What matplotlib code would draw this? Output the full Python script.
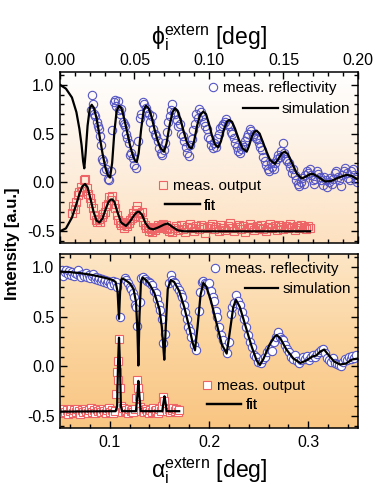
import numpy as np
import matplotlib
matplotlib.use("Agg")
import matplotlib.pyplot as plt
from matplotlib.colors import LinearSegmentedColormap
from matplotlib.ticker import MultipleLocator, FormatStrFormatter

plt.rcParams['font.family'] = ['Liberation Sans', 'DejaVu Sans']

# ---- top panel: phi_i extern ----
top_sim_x = [0.000, 0.004, 0.008, 0.011, 0.013, 0.0145, 0.0155, 0.0163, 0.0172, 0.0185,
             0.0200, 0.0213, 0.0228, 0.0245, 0.0265, 0.0285, 0.0305, 0.0322, 0.0336, 0.0350,
             0.0365, 0.0380, 0.0396, 0.0412, 0.0430, 0.0450, 0.0470, 0.0490, 0.0505, 0.0515,
             0.0528, 0.0545, 0.0562, 0.0577, 0.0595, 0.0615, 0.0635, 0.0655, 0.0675, 0.0698,
             0.0715, 0.0735, 0.0755, 0.0772, 0.0790, 0.0810, 0.0830, 0.0850, 0.0868, 0.0884,
             0.0900, 0.0920, 0.0940, 0.0962, 0.0980, 0.1000, 0.1020, 0.1040, 0.1063, 0.1080,
             0.1100, 0.1120, 0.1136, 0.1155, 0.1175, 0.1200, 0.1225, 0.1253, 0.1270, 0.1290,
             0.1305, 0.1320, 0.1340, 0.1360, 0.1385, 0.1410, 0.1443, 0.1465, 0.1490, 0.1510,
             0.1530, 0.1560, 0.1590, 0.1622, 0.1650, 0.1680, 0.1700, 0.1730, 0.1779, 0.1820,
             0.1870, 0.1924, 0.1960, 0.2000]
top_sim_y = [1.00, 0.96, 0.87, 0.72, 0.55, 0.38, 0.22, 0.145, 0.30, 0.58,
             0.76, 0.795, 0.76, 0.66, 0.48, 0.30, 0.15, 0.07, 0.05, 0.20,
             0.52, 0.73, 0.785, 0.76, 0.66, 0.52, 0.38, 0.27, 0.22, 0.21,
             0.30, 0.55, 0.74, 0.785, 0.76, 0.67, 0.54, 0.43, 0.35, 0.315,
             0.40, 0.58, 0.72, 0.76, 0.73, 0.64, 0.52, 0.42, 0.36, 0.35,
             0.42, 0.58, 0.69, 0.725, 0.70, 0.60, 0.48, 0.39, 0.36, 0.42,
             0.54, 0.62, 0.64, 0.62, 0.55, 0.44, 0.35, 0.315, 0.38, 0.48,
             0.52, 0.53, 0.50, 0.42, 0.32, 0.23, 0.19, 0.24, 0.30, 0.315,
             0.29, 0.19, 0.09, 0.04, 0.06, 0.085, 0.086, 0.06, 0.01, 0.015,
             0.05, 0.078, 0.065, 0.03]

top_refl_x = [0.0205, 0.0215, 0.0222, 0.0230, 0.0238, 0.0245, 0.0252, 0.0260, 0.0268, 0.0275,
              0.0282, 0.0290, 0.0298, 0.0310, 0.0322, 0.0330, 0.0340, 0.0352, 0.0362, 0.0370,
              0.0378, 0.0388, 0.0396, 0.0405, 0.0412, 0.0420, 0.0428, 0.0436, 0.0445, 0.0452,
              0.0460, 0.0470, 0.0478, 0.0488, 0.0500, 0.0512, 0.0525, 0.0535, 0.0545, 0.0555,
              0.0565, 0.0575, 0.0585, 0.0595, 0.0605, 0.0615, 0.0625, 0.0635, 0.0645, 0.0655,
              0.0665, 0.0675, 0.0685, 0.0695, 0.0705, 0.0715, 0.0725, 0.0735, 0.0745, 0.0755,
              0.0765, 0.0775, 0.0785, 0.0795, 0.0805, 0.0815, 0.0825, 0.0835, 0.0845, 0.0855,
              0.0865, 0.0875, 0.0885, 0.0895, 0.0905, 0.0915, 0.0925, 0.0935, 0.0945, 0.0955,
              0.0965, 0.0975, 0.0985, 0.0995, 0.1005, 0.1015, 0.1025, 0.1035, 0.1045, 0.1055,
              0.1065, 0.1075, 0.1085, 0.1095, 0.1105, 0.1115, 0.1125, 0.1135, 0.1145, 0.1155,
              0.1165, 0.1175, 0.1185, 0.1195, 0.1205, 0.1215, 0.1225, 0.1235, 0.1245, 0.1255,
              0.1265, 0.1275, 0.1285, 0.1295, 0.1305, 0.1315, 0.1325, 0.1335, 0.1345, 0.1355,
              0.1365, 0.1375, 0.1385, 0.1395, 0.1405, 0.1415, 0.1425, 0.1435, 0.1445, 0.1455,
              0.1465, 0.1475, 0.1485, 0.1495, 0.1505, 0.1515, 0.1525, 0.1535, 0.1545, 0.1555,
              0.1565, 0.1575, 0.1585, 0.1595, 0.1605, 0.1615, 0.1625, 0.1635, 0.1645, 0.1655,
              0.1665, 0.1675, 0.1685, 0.1695, 0.1705, 0.1715, 0.1725, 0.1735, 0.1745, 0.1755,
              0.1765, 0.1775, 0.1785, 0.1795, 0.1805, 0.1815, 0.1825, 0.1835, 0.1845, 0.1855,
              0.1865, 0.1875, 0.1885, 0.1895, 0.1905, 0.1915, 0.1925, 0.1935, 0.1945, 0.1955,
              0.1965, 0.1975, 0.1985, 0.1995]
top_refl_y = [0.74, 0.90, 0.80, 0.70, 0.68, 0.62, 0.58, 0.55, 0.48, 0.38,
              0.24, 0.22, 0.12, 0.14, 0.04, 0.03, 0.12, 0.54, 0.82, 0.84,
              0.78, 0.83, 0.74, 0.70, 0.75, 0.62, 0.60, 0.58, 0.50, 0.45,
              0.40, 0.28, 0.30, 0.25, 0.18, 0.145, 0.42, 0.66, 0.70, 0.82,
              0.80, 0.76, 0.72, 0.70, 0.62, 0.68, 0.55, 0.50, 0.48, 0.42,
              0.35, 0.30, 0.28, 0.33, 0.40, 0.52, 0.62, 0.68, 0.74, 0.80,
              0.72, 0.70, 0.64, 0.58, 0.60, 0.50, 0.48, 0.42, 0.36, 0.30,
              0.27, 0.38, 0.44, 0.54, 0.60, 0.70, 0.66, 0.75, 0.72, 0.68,
              0.62, 0.58, 0.55, 0.47, 0.44, 0.38, 0.35, 0.40, 0.36, 0.45,
              0.50, 0.56, 0.58, 0.60, 0.62, 0.65, 0.60, 0.58, 0.52, 0.50,
              0.45, 0.40, 0.36, 0.32, 0.30, 0.34, 0.38, 0.36, 0.42, 0.47,
              0.50, 0.55, 0.53, 0.48, 0.50, 0.46, 0.44, 0.40, 0.36, 0.33,
              0.26, 0.22, 0.18, 0.14, 0.12, 0.20, 0.16, 0.14, 0.20, 0.24,
              0.28, 0.26, 0.32, 0.40, 0.30, 0.24, 0.22, 0.20, 0.16, 0.10,
              0.14, 0.08, 0.02, -0.02, -0.04, 0.00, 0.05, -0.02, 0.08, 0.12,
              0.10, 0.14, 0.08, 0.02, -0.02, 0.04, 0.12, 0.09, 0.06, 0.02,
              -0.03, 0.06, 0.03, -0.05, 0.00, 0.05, -0.02, 0.04, 0.10, 0.12,
              0.06, 0.02, -0.04, 0.08, 0.12, 0.15, 0.10, 0.05, 0.02, 0.12,
              0.14, 0.08, 0.04, 0.00]

top_fit_x = [0.000, 0.004, 0.008, 0.011, 0.013, 0.015, 0.0168, 0.0185, 0.0205, 0.0225,
             0.0245, 0.0264, 0.0285, 0.0305, 0.0325, 0.0340, 0.0351, 0.0365, 0.0385, 0.0410,
             0.0443, 0.0470, 0.0500, 0.0520, 0.0532, 0.0550, 0.0575, 0.0600, 0.0626, 0.0660,
             0.0700, 0.0723, 0.0750, 0.0790, 0.0830, 0.1678]
top_fit_y = [-0.50, -0.47, -0.36, -0.22, -0.12, -0.04, -0.016, -0.05, -0.17, -0.30,
             -0.39, -0.41, -0.37, -0.28, -0.20, -0.175, -0.174, -0.20, -0.30, -0.41,
             -0.445, -0.40, -0.33, -0.30, -0.30, -0.33, -0.42, -0.47, -0.48, -0.46,
             -0.43, -0.42, -0.45, -0.49, -0.50, -0.50]

top_out_x = [0.0080, 0.0090, 0.0100, 0.0110, 0.0120, 0.0130, 0.0140, 0.0150, 0.0160, 0.0170,
             0.0180, 0.0190, 0.0200, 0.0210, 0.0220, 0.0230, 0.0240, 0.0250, 0.0260, 0.0270,
             0.0280, 0.0290, 0.0300, 0.0310, 0.0320, 0.0330, 0.0340, 0.0350, 0.0360, 0.0370,
             0.0380, 0.0390, 0.0400, 0.0410, 0.0420, 0.0430, 0.0440, 0.0450, 0.0460, 0.0470,
             0.0480, 0.0490, 0.0500, 0.0510, 0.0520, 0.0530, 0.0540, 0.0550, 0.0560, 0.0570,
             0.0580, 0.0590, 0.0600, 0.0610, 0.0620, 0.0630, 0.0640, 0.0650, 0.0660, 0.0670,
             0.0680, 0.0690, 0.0700, 0.0710, 0.0720, 0.0730, 0.0740, 0.0750, 0.0765, 0.0780,
             0.0795, 0.0810, 0.0825, 0.0840, 0.0855, 0.0870, 0.0885, 0.0900, 0.0915, 0.0930,
             0.0945, 0.0960, 0.0975, 0.0990, 0.1005, 0.1020, 0.1035, 0.1050, 0.1065, 0.1080,
             0.1095, 0.1110, 0.1125, 0.1140, 0.1155, 0.1170, 0.1185, 0.1200, 0.1215, 0.1230,
             0.1245, 0.1260, 0.1275, 0.1290, 0.1305, 0.1320, 0.1335, 0.1350, 0.1365, 0.1380,
             0.1395, 0.1410, 0.1425, 0.1440, 0.1455, 0.1470, 0.1485, 0.1500, 0.1515, 0.1530,
             0.1545, 0.1560, 0.1575, 0.1590, 0.1605, 0.1620, 0.1635, 0.1650, 0.1665, 0.1680]
top_out_y = [-0.31, -0.24, -0.27, -0.20, -0.13, -0.10, -0.05, -0.09, 0.03, 0.04,
             -0.06, -0.12, -0.16, -0.21, -0.26, -0.33, -0.38, -0.40, -0.37, -0.40,
             -0.35, -0.32, -0.30, -0.24, -0.22, -0.15, -0.18, -0.14, -0.22, -0.26,
             -0.33, -0.38, -0.42, -0.44, -0.40, -0.47, -0.43, -0.45, -0.41, -0.38,
             -0.36, -0.31, -0.34, -0.28, -0.24, -0.31, -0.35, -0.30, -0.40, -0.44,
             -0.47, -0.46, -0.50, -0.48, -0.51, -0.47, -0.49, -0.46, -0.44, -0.47,
             -0.45, -0.43, -0.46, -0.44, -0.48, -0.50, -0.47, -0.51, -0.47, -0.45,
             -0.49, -0.44, -0.48, -0.51, -0.46, -0.43, -0.47, -0.50, -0.45, -0.48,
             -0.44, -0.46, -0.52, -0.47, -0.45, -0.43, -0.48, -0.46, -0.50, -0.44,
             -0.47, -0.49, -0.45, -0.42, -0.47, -0.50, -0.46, -0.44, -0.48, -0.45,
             -0.51, -0.47, -0.43, -0.46, -0.49, -0.45, -0.47, -0.44, -0.48, -0.50,
             -0.46, -0.43, -0.47, -0.45, -0.49, -0.44, -0.46, -0.48, -0.45, -0.47,
             -0.43, -0.46, -0.49, -0.45, -0.47, -0.44, -0.46, -0.48, -0.45, -0.47]

# ---- bottom panel: alpha_i extern ----
bot_sim_x = [0.050, 0.060, 0.070, 0.080, 0.090, 0.098, 0.103, 0.106, 0.1080, 0.1094,
             0.1105, 0.1115, 0.1125, 0.1150, 0.1200, 0.1240, 0.1265, 0.1280, 0.1289, 0.1300,
             0.1315, 0.1332, 0.1360, 0.1400, 0.1450, 0.1500, 0.1525, 0.1540, 0.1550, 0.1565,
             0.1585, 0.1614, 0.1650, 0.1700, 0.1750, 0.1800, 0.1835, 0.1859, 0.1885, 0.1915,
             0.1943, 0.1975, 0.2020, 0.2080, 0.2130, 0.2178, 0.2210, 0.2245, 0.2272, 0.2310,
             0.2370, 0.2430, 0.2480, 0.2513, 0.2550, 0.2610, 0.2660, 0.2682, 0.2720, 0.2780,
             0.2850, 0.2920, 0.2980, 0.3040, 0.3080, 0.3120, 0.3160, 0.3200, 0.3260, 0.3320,
             0.3380, 0.3440, 0.3500]
bot_sim_y = [0.955, 0.950, 0.940, 0.925, 0.905, 0.885, 0.870, 0.850, 0.75, 0.48,
             0.75, 0.87, 0.885, 0.875, 0.84, 0.78, 0.65, 0.35, 0.01, 0.50,
             0.85, 0.895, 0.875, 0.83, 0.74, 0.58, 0.40, 0.20, 0.068, 0.40,
             0.78, 0.87, 0.85, 0.76, 0.60, 0.40, 0.24, 0.163, 0.40, 0.72,
             0.84, 0.80, 0.66, 0.42, 0.22, 0.13, 0.35, 0.60, 0.67, 0.60,
             0.40, 0.20, 0.06, 0.015, 0.08, 0.22, 0.30, 0.316, 0.28, 0.17,
             0.08, 0.035, 0.06, 0.10, 0.11, 0.15, 0.17, 0.12, 0.05, 0.02,
             0.03, 0.07, 0.08]

bot_refl_x = [0.0505, 0.0520, 0.0535, 0.0550, 0.0565, 0.0580, 0.0595, 0.0610, 0.0625, 0.0640,
              0.0655, 0.0670, 0.0685, 0.0700, 0.0715, 0.0730, 0.0745, 0.0760, 0.0775, 0.0790,
              0.0805, 0.0820, 0.0835, 0.0850, 0.0865, 0.0880, 0.0895, 0.0910, 0.0925, 0.0940,
              0.0955, 0.0970, 0.0985, 0.1000, 0.1015, 0.1030, 0.1045, 0.1060, 0.1075, 0.1104,
              0.1150, 0.1165, 0.1185, 0.1200, 0.1215, 0.1230, 0.1245, 0.1255, 0.1270, 0.1280,
              0.1305, 0.1320, 0.1340, 0.1355, 0.1375, 0.1395, 0.1410, 0.1430, 0.1450, 0.1465,
              0.1480, 0.1495, 0.1510, 0.1525, 0.1540, 0.1555, 0.1600, 0.1615, 0.1630, 0.1645,
              0.1660, 0.1680, 0.1700, 0.1715, 0.1730, 0.1745, 0.1760, 0.1775, 0.1790, 0.1805,
              0.1820, 0.1845, 0.1873, 0.1895, 0.1909, 0.1925, 0.1940, 0.1955, 0.1970, 0.1990,
              0.2005, 0.2020, 0.2040, 0.2055, 0.2070, 0.2085, 0.2100, 0.2120, 0.2140, 0.2160,
              0.2180, 0.2200, 0.2218, 0.2235, 0.2255, 0.2270, 0.2290, 0.2310, 0.2330, 0.2350,
              0.2370, 0.2390, 0.2410, 0.2430, 0.2450, 0.2470, 0.2495, 0.2520, 0.2545, 0.2565,
              0.2585, 0.2605, 0.2630, 0.2650, 0.2670, 0.2698, 0.2715, 0.2735, 0.2748, 0.2765,
              0.2785, 0.2805, 0.2825, 0.2845, 0.2865, 0.2885, 0.2905, 0.2925, 0.2945, 0.2965,
              0.2985, 0.3005, 0.3025, 0.3045, 0.3065, 0.3085, 0.3105, 0.3125, 0.3145, 0.3165,
              0.3185, 0.3205, 0.3225, 0.3245, 0.3265, 0.3285, 0.3305, 0.3325, 0.3345, 0.3365,
              0.3385, 0.3405, 0.3425, 0.3445, 0.3465, 0.3485]
bot_refl_y = [0.93, 0.97, 0.91, 0.95, 0.97, 0.93, 0.96, 0.92, 0.95, 0.91,
              0.94, 0.93, 0.97, 0.92, 0.90, 0.93, 0.91, 0.94, 0.90, 0.92,
              0.89, 0.91, 0.93, 0.88, 0.90, 0.87, 0.89, 0.86, 0.88, 0.85,
              0.87, 0.84, 0.86, 0.84, 0.82, 0.86, 0.83, 0.85, 0.80, 0.50,
              0.89, 0.87, 0.84, 0.80, 0.78, 0.74, 0.70, 0.62, 0.60, 0.41,
              0.65, 0.89, 0.90, 0.88, 0.86, 0.85, 0.84, 0.82, 0.76, 0.74,
              0.68, 0.62, 0.57, 0.48, 0.24, 0.33, 0.84, 0.92, 0.87, 0.85,
              0.84, 0.80, 0.77, 0.73, 0.70, 0.62, 0.55, 0.48, 0.40, 0.36,
              0.30, 0.22, 0.17, 0.56, 0.75, 0.85, 0.86, 0.84, 0.83, 0.82,
              0.84, 0.76, 0.70, 0.66, 0.56, 0.50, 0.40, 0.32, 0.27, 0.20,
              0.14, 0.25, 0.53, 0.60, 0.64, 0.72, 0.66, 0.62, 0.55, 0.48,
              0.40, 0.32, 0.25, 0.20, 0.12, 0.10, 0.05, 0.04, 0.08, 0.10,
              0.15, 0.18, 0.16, 0.25, 0.30, 0.35, 0.30, 0.28, 0.27, 0.22,
              0.18, 0.15, 0.10, 0.08, 0.12, 0.06, 0.04, 0.07, 0.10, 0.08,
              0.11, 0.07, 0.10, 0.12, 0.10, 0.13, 0.15, 0.17, 0.18, 0.14,
              0.09, 0.07, 0.05, 0.09, 0.04, 0.02, 0.01, 0.00, 0.05, 0.08,
              0.07, 0.10, 0.08, 0.11, 0.09, 0.12]

bot_fit_x = [0.050, 0.080, 0.1060, 0.1075, 0.1085, 0.1094, 0.1103, 0.1113, 0.1125, 0.1265,
             0.1278, 0.1289, 0.1300, 0.1313, 0.1530, 0.1542, 0.1552, 0.1562, 0.1575, 0.1700]
bot_fit_y = [-0.455, -0.452, -0.45, -0.40, 0.05, 0.29, 0.05, -0.40, -0.45, -0.45,
             -0.30, -0.145, -0.30, -0.45, -0.45, -0.36, -0.30, -0.36, -0.45, -0.45]

bot_out_x = [0.0510, 0.0525, 0.0540, 0.0555, 0.0570, 0.0585, 0.0600, 0.0615, 0.0630, 0.0645,
             0.0660, 0.0675, 0.0690, 0.0705, 0.0720, 0.0735, 0.0750, 0.0765, 0.0780, 0.0795,
             0.0810, 0.0825, 0.0840, 0.0855, 0.0870, 0.0885, 0.0900, 0.0915, 0.0930, 0.0945,
             0.0960, 0.0975, 0.0990, 0.1005, 0.1020, 0.1035, 0.1050, 0.1060, 0.1070, 0.1080,
             0.1087, 0.1094, 0.1105, 0.1112, 0.1120, 0.1135, 0.1150, 0.1165, 0.1180, 0.1195,
             0.1210, 0.1225, 0.1240, 0.1255, 0.1265, 0.1272, 0.1285, 0.1295, 0.1305, 0.1320,
             0.1335, 0.1350, 0.1365, 0.1380, 0.1395, 0.1410, 0.1425, 0.1440, 0.1455, 0.1470,
             0.1485, 0.1500, 0.1515, 0.1530, 0.1540, 0.1550, 0.1565, 0.1580, 0.1595, 0.1610,
             0.1625, 0.1640, 0.1655, 0.1670, 0.1685, 0.1700]
bot_out_y = [-0.44, -0.47, -0.43, -0.46, -0.44, -0.48, -0.45, -0.43, -0.47, -0.44,
             -0.46, -0.43, -0.45, -0.48, -0.44, -0.46, -0.43, -0.45, -0.47, -0.44,
             -0.42, -0.46, -0.44, -0.47, -0.43, -0.45, -0.44, -0.46, -0.43, -0.45,
             -0.47, -0.44, -0.42, -0.46, -0.44, -0.47, -0.45, -0.28, -0.06, -0.14,
             0.06, 0.28, -0.22, -0.40, -0.46, -0.42, -0.45, -0.44, -0.47, -0.43,
             -0.45, -0.44, -0.46, -0.43, -0.32, -0.14, -0.22, -0.30, -0.41, -0.45,
             -0.44, -0.46, -0.43, -0.45, -0.47, -0.44, -0.46, -0.42, -0.45, -0.44,
             -0.47, -0.43, -0.45, -0.40, -0.31, -0.35, -0.42, -0.45, -0.43, -0.46,
             -0.44, -0.42, -0.45, -0.43, -0.46, -0.44]

blue = '#5656c4'
red = '#ee6466'

fig = plt.figure(figsize=(3.81, 4.87), dpi=100)
ax1 = fig.add_axes([0.1575, 0.501, 0.782, 0.351])
ax2 = fig.add_axes([0.1575, 0.121, 0.782, 0.357])

grad = np.linspace(0, 1, 256).reshape(-1, 1)
cm_top = LinearSegmentedColormap.from_list('t', ['#fde1c0', '#fdf0e2', '#ffffff'])
cm_bot = LinearSegmentedColormap.from_list('b', ['#f9c582', '#fbd49e', '#fde6c6'])
for ax, cm in ((ax1, cm_top), (ax2, cm_bot)):
    ax.imshow(grad, cmap=cm, extent=[0, 1, 0, 1], transform=ax.transAxes,
              aspect='auto', origin='lower', zorder=0)

# top
c1, = ax1.plot(top_refl_x, top_refl_y, 'o', ms=6, mfc='none', mec=blue, mew=0.8, zorder=2)
s1, = ax1.plot(top_sim_x, top_sim_y, '-', color='k', lw=1.6, zorder=3)
q1, = ax1.plot(top_out_x, top_out_y, 's', ms=5.5, mfc='none', mec=red, mew=0.8, zorder=2)
f1, = ax1.plot(top_fit_x, top_fit_y, '-', color='k', lw=1.6, zorder=3)

# bottom
c2, = ax2.plot(bot_refl_x, bot_refl_y, 'o', ms=6, mfc='white', mec=blue, mew=0.8, zorder=2)
s2, = ax2.plot(bot_sim_x, bot_sim_y, '-', color='k', lw=1.6, zorder=3)
q2, = ax2.plot(bot_out_x, bot_out_y, 's', ms=5.5, mfc='white', mec=red, mew=0.8, zorder=2)
f2, = ax2.plot(bot_fit_x, bot_fit_y, '-', color='k', lw=1.6, zorder=3)

ax1.set_xlim(0, 0.2)
ax2.set_xlim(0.05, 0.35)
for ax in (ax1, ax2):
    ax.set_ylim(-0.62, 1.13)
    ax.yaxis.set_major_locator(MultipleLocator(0.5))
    ax.yaxis.set_minor_locator(MultipleLocator(0.1))
    ax.yaxis.set_major_formatter(FormatStrFormatter('%.1f'))
    ax.tick_params(which='both', direction='in', top=True, right=True, width=1.0,
                   labelsize=11.5, pad=4)
    ax.tick_params(which='major', length=5)
    ax.tick_params(which='minor', length=3)
    for sp in ax.spines.values():
        sp.set_linewidth(1.1)

ax1.xaxis.set_major_locator(MultipleLocator(0.05))
ax1.xaxis.set_minor_locator(MultipleLocator(0.01))
ax1.xaxis.set_major_formatter(FormatStrFormatter('%.2f'))
ax1.tick_params(axis='x', labeltop=True, labelbottom=False, pad=3)
ax1.xaxis.set_label_position('top')
ax1.set_xlabel(r'$\mathregular{ϕ_i^{extern}}$ [deg]', fontsize=16.5, labelpad=6)

ax2.xaxis.set_major_locator(MultipleLocator(0.1))
ax2.xaxis.set_minor_locator(MultipleLocator(0.02))
ax2.xaxis.set_major_formatter(FormatStrFormatter('%.1f'))
ax2.tick_params(axis='x', pad=5)
ax2.set_xlabel(r'$\mathregular{α_i^{extern}}$ [deg]', fontsize=16.5, labelpad=4)

fig.text(0.032, 0.5, 'Intensity [a.u.]', rotation=90, fontsize=12, fontweight='bold',
         ha='center', va='center')


def entry(ax, handle, label, x, y, hl, pad):
    leg = ax.legend([handle], [label], loc='center left', bbox_to_anchor=(x, y),
                    frameon=False, fontsize=11, handlelength=hl, handletextpad=pad,
                    borderpad=0, borderaxespad=0)
    ax.add_artist(leg)


entry(ax1, c1, 'meas. reflectivity', 0.497, 0.906, 0.6, 0.35)
entry(ax1, s1, 'simulation', 0.614, 0.784, 2.3, 0.25)
entry(ax1, q1, 'meas. output', 0.330, 0.333, 0.6, 0.35)
entry(ax1, f1, 'fit', 0.352, 0.218, 2.3, 0.25)
entry(ax2, c2, 'meas. reflectivity', 0.504, 0.914, 0.6, 0.35)
entry(ax2, s2, 'simulation', 0.62, 0.799, 2.2, 0.25)
entry(ax2, q2, 'meas. output', 0.477, 0.241, 0.6, 0.35)
entry(ax2, f2, 'fit', 0.493, 0.132, 2.2, 0.35)

fig.savefig('out.png', dpi=100)
